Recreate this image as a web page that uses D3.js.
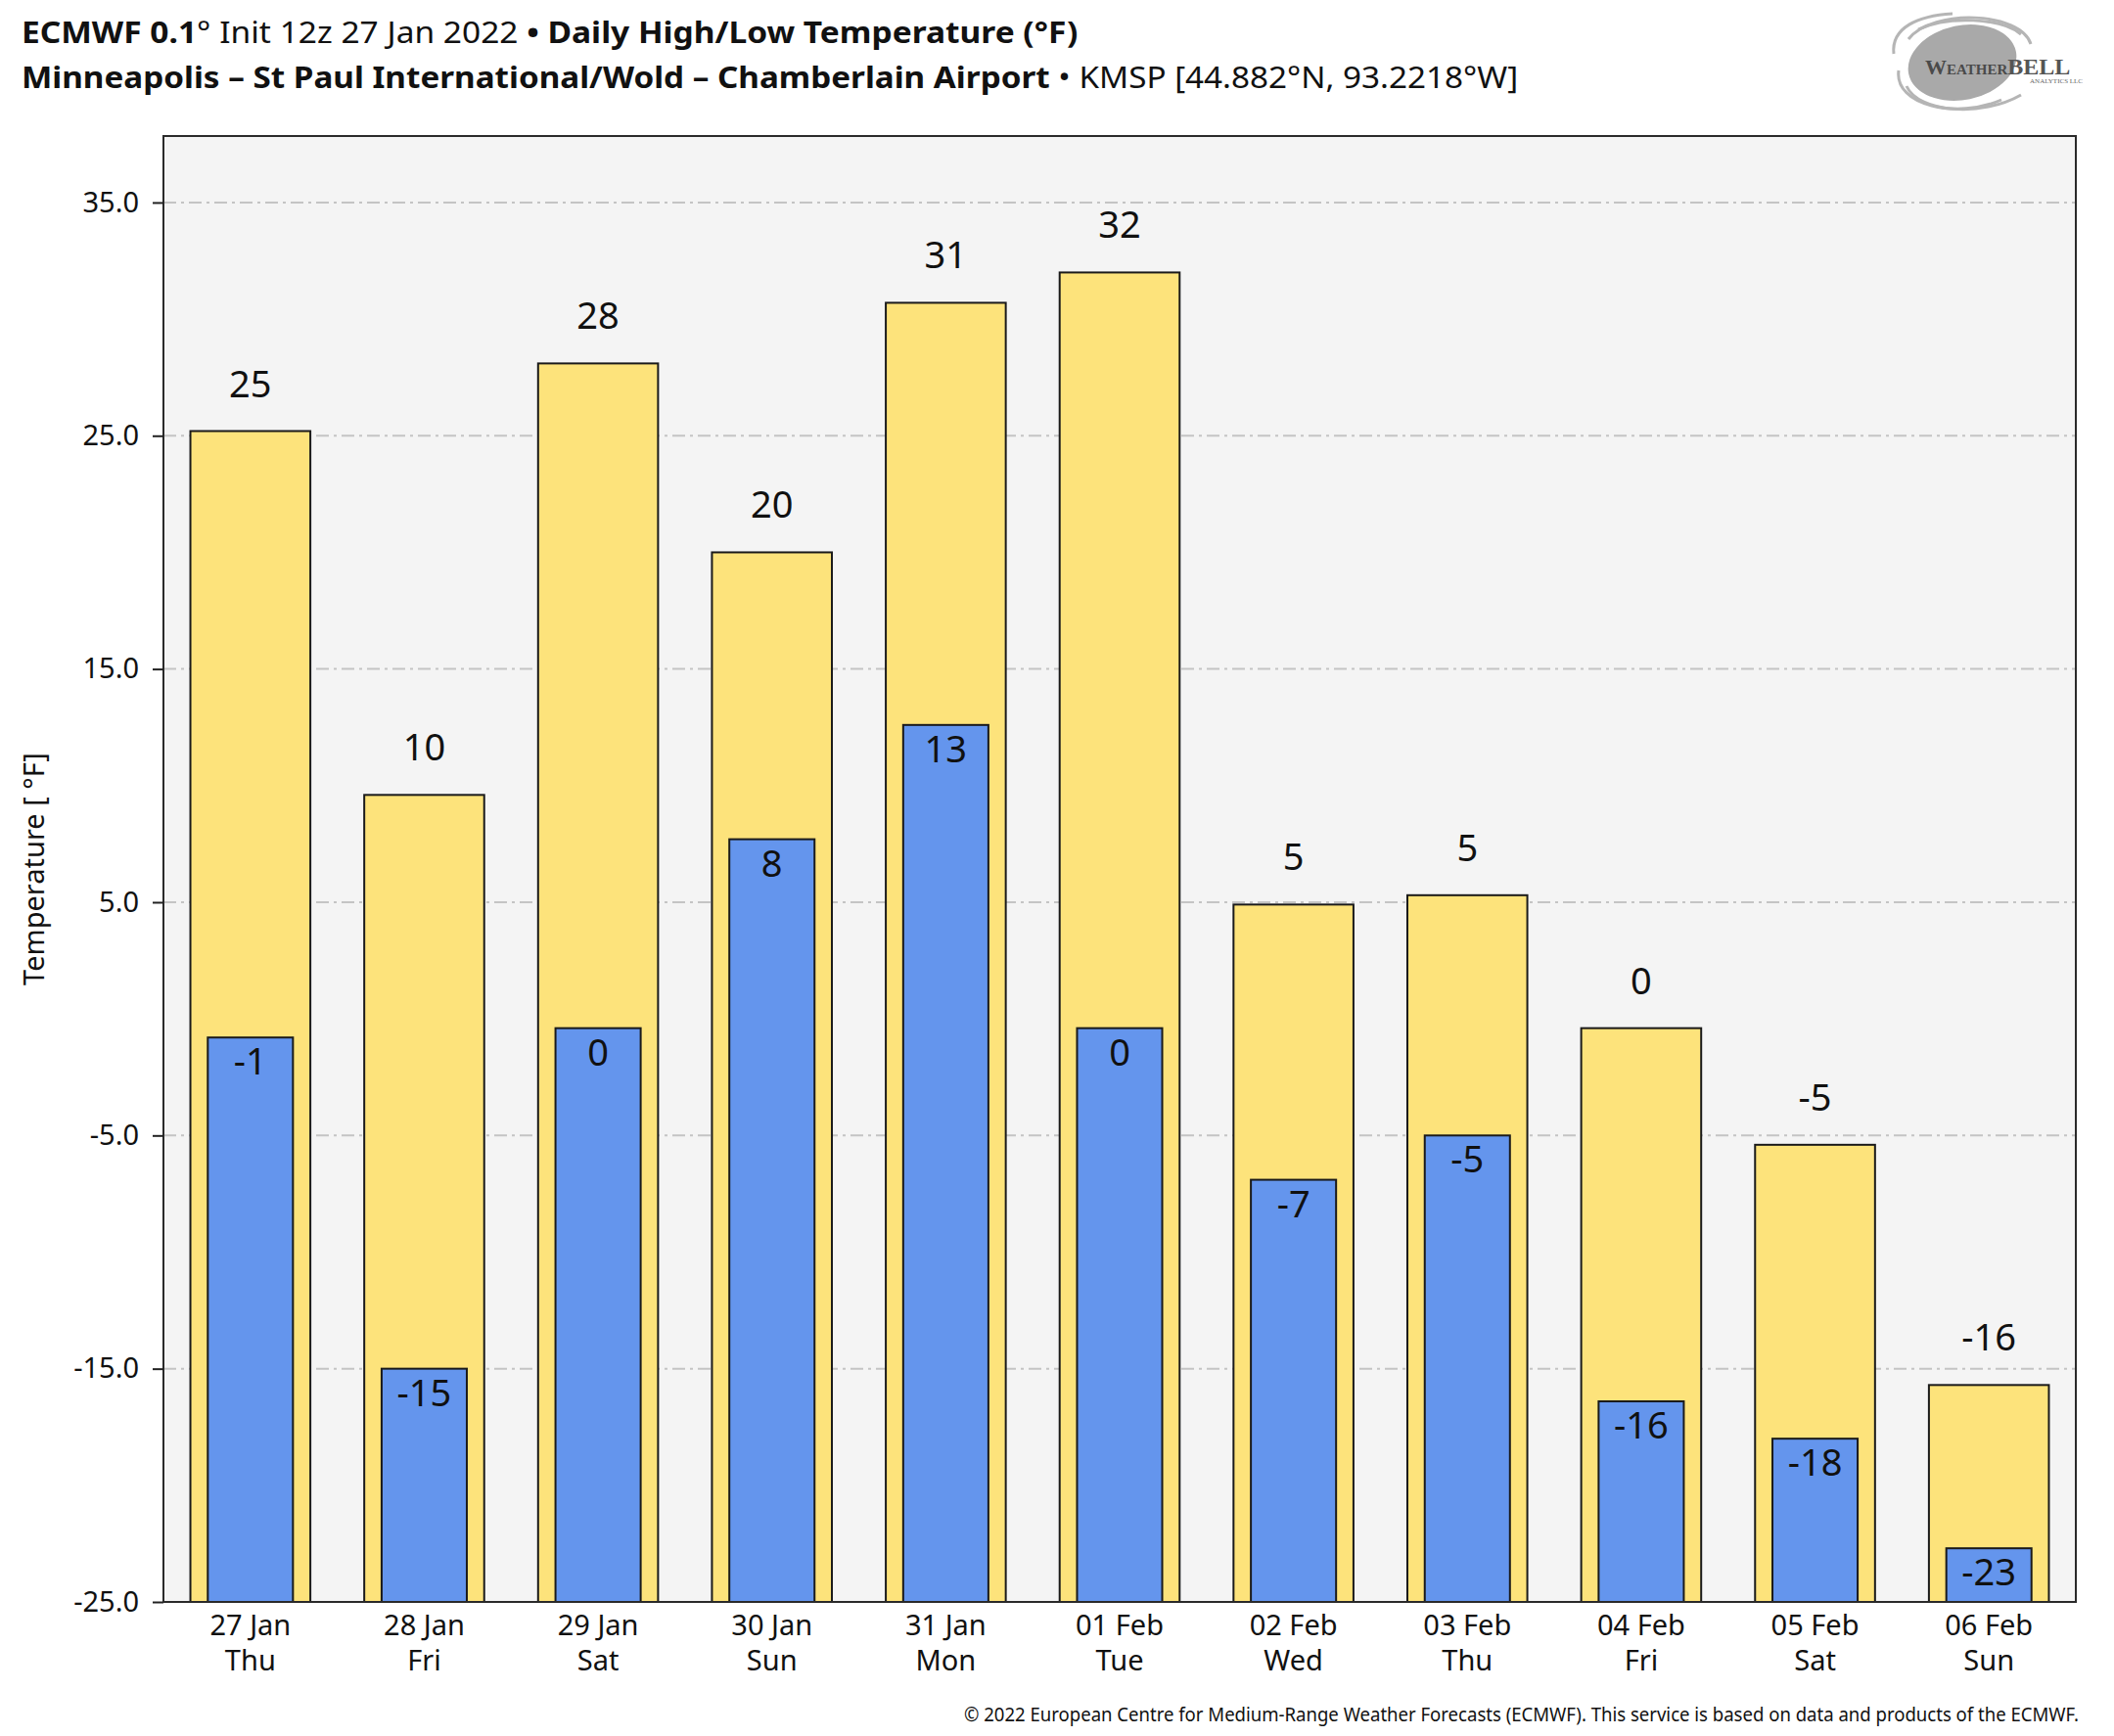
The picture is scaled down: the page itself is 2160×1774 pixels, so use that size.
<!DOCTYPE html>
<html><head><meta charset="utf-8">
<script src="https://cdn.jsdelivr.net/npm/d3@7"></script>
<style>body{margin:0;background:#fff} svg{display:block}</style>
</head><body><svg id="c" width="2160" height="1774"></svg>
<script>
const dates = ["27 Jan","28 Jan","29 Jan","30 Jan","31 Jan","01 Feb","02 Feb","03 Feb","04 Feb","05 Feb","06 Feb"];
const weekdays = ["Thu","Fri","Sat","Sun","Mon","Tue","Wed","Thu","Fri","Sat","Sun"];
const highs = [25.2, 9.6, 28.1, 20.0, 30.7, 32.0, 4.9, 5.3, -0.4, -5.4, -15.7];
const lows = [-0.8, -15.0, -0.4, 7.7, 12.6, -0.4, -6.9, -5.0, -16.4, -18.0, -22.7];
const yTicks = [-25, -15, -5, 5, 15, 25, 35];
const yDomain = [-25, 37.85];

const FONT = "'Noto Sans', 'Open Sans', sans-serif";
const svg = d3.select("#c");
const L = 167, R = 2121, T = 139, B = 1637;

const x = d3.scaleBand().domain(dates).range([L, R]).padding(0);
const y = d3.scaleLinear().domain(yDomain).range([B, T]);

// plot background
svg.append("rect").attr("x", L).attr("y", T).attr("width", R - L).attr("height", B - T).attr("fill", "#f4f4f4");

// gridlines
svg.append("g").selectAll("line").data(yTicks.filter(d => d > yDomain[0])).join("line")
  .attr("x1", L).attr("x2", R).attr("y1", d => y(d)).attr("y2", d => y(d))
  .attr("stroke", "#c4c4c4").attr("stroke-width", 2).attr("stroke-dasharray", "13,5,3,5");

const step = x.bandwidth();
const hw = step * 0.69, lw = step * 0.49;
const cx = d => x(d) + step / 2;

// high bars
svg.append("g").selectAll("rect").data(dates).join("rect")
  .attr("x", (d) => cx(d) - hw / 2).attr("width", hw)
  .attr("y", (d, i) => y(highs[i])).attr("height", (d, i) => y(yDomain[0]) - y(highs[i]))
  .attr("fill", "#fde37b").attr("stroke", "#1a1a1a").attr("stroke-width", 2);
// low bars
svg.append("g").selectAll("rect").data(dates).join("rect")
  .attr("x", (d) => cx(d) - lw / 2).attr("width", lw)
  .attr("y", (d, i) => y(lows[i])).attr("height", (d, i) => y(yDomain[0]) - y(lows[i]))
  .attr("fill", "#6495ed").attr("stroke", "#1a1a1a").attr("stroke-width", 2);

const fmtVal = v => String(Math.round(v) === 0 ? 0 : Math.round(v));
// value labels
svg.append("g").selectAll("text").data(dates).join("text")
  .attr("x", d => cx(d)).attr("y", (d, i) => y(highs[i]) - 35)
  .attr("text-anchor", "middle").attr("font-family", FONT).attr("font-size", 38).attr("fill", "#111")
  .text((d, i) => fmtVal(highs[i]));
svg.append("g").selectAll("text").data(dates).join("text")
  .attr("x", d => cx(d)).attr("y", (d, i) => y(lows[i]) + 38)
  .attr("text-anchor", "middle").attr("font-family", FONT).attr("font-size", 38).attr("fill", "#111")
  .text((d, i) => fmtVal(lows[i]));

// frame
svg.append("rect").attr("x", L).attr("y", T).attr("width", R - L).attr("height", B - T)
  .attr("fill", "none").attr("stroke", "#2a2a2a").attr("stroke-width", 2);

// y axis
const ya = svg.append("g").attr("transform", `translate(${L},0)`)
  .call(d3.axisLeft(y).tickValues(yTicks).tickFormat(d => d.toFixed(1)).tickSize(11).tickPadding(14));
ya.select(".domain").remove();
ya.selectAll(".tick line").attr("stroke", "#222").attr("stroke-width", 2);
ya.selectAll(".tick text").attr("font-family", FONT).attr("font-size", 29).attr("fill", "#111");

// x axis
const xa = svg.append("g").attr("transform", `translate(0,${B})`)
  .call(d3.axisBottom(x).tickSize(0).tickPadding(0));
xa.select(".domain").remove();
xa.selectAll(".tick text").each(function(d, i) {
  const t = d3.select(this).text(null).attr("y", 0).attr("dy", null)
    .attr("font-family", FONT).attr("font-size", 29).attr("fill", "#111");
  t.append("tspan").attr("x", 0).attr("y", 34).text(d);
  t.append("tspan").attr("x", 0).attr("y", 70).text(weekdays[i]);
});

// y label
svg.append("text").attr("transform", `translate(45,${(T + B) / 2}) rotate(-90)`)
  .attr("text-anchor", "middle").attr("font-family", FONT).attr("font-size", 29).attr("fill", "#111")
  .text("Temperature [ °F]");

// titles
function titleLine(parts, yPos, targetW, size) {
  const g = svg.append("text").attr("font-family", FONT).attr("font-size", size).attr("fill", "#111");
  parts.forEach(p => g.append("tspan").attr("font-weight", p[1] ? 700 : 400).text(p[0]));
  const w = g.node().getComputedTextLength();
  g.attr("transform", `translate(22,${yPos}) scale(${targetW / w},1)`);
}
titleLine([["ECMWF 0.1", 1], ["°", 0], [" Init 12z 27 Jan 2022 ", 0], ["•", 1], [" Daily High/Low Temperature (°F)", 1]], 44, 1080, 31);
titleLine([["Minneapolis – St Paul International/Wold – Chamberlain Airport", 1], [" • KMSP [44.882°N, 93.2218°W]", 0]], 90, 1530, 31);

// footer
const ft = svg.append("text").attr("font-family", FONT).attr("font-size", 19).attr("fill", "#111")
  .text("© 2022 European Centre for Medium-Range Weather Forecasts (ECMWF). This service is based on data and products of the ECMWF.");
const fw = ft.node().getComputedTextLength();
ft.attr("transform", `translate(985,1759) scale(${1140 / fw},1)`);

// logo
const lg = svg.append("g");
lg.append("ellipse").attr("cx", 2005).attr("cy", 64).attr("rx", 56).attr("ry", 38)
  .attr("transform", "rotate(-12,2005,64)").attr("fill", "#a9a9a9");
const arcs = [
  "M1950,40 C1975,8 2065,12 2075,45",
  "M1940,72 C1935,108 2000,122 2045,102",
  "M1960,30 C1990,16 2045,18 2065,35",
  "M1948,88 C1960,115 2025,120 2065,97",
  "M1935,55 C1932,28 1960,16 1995,14"
];
lg.selectAll("path").data(arcs).join("path").attr("d", d => d)
  .attr("fill", "none").attr("stroke", "#b5b5b5").attr("stroke-width", 3);
const lt = lg.append("text").attr("x", 1967).attr("y", 76).attr("font-family", "'Liberation Serif', serif").attr("fill", "#4a4a4a").attr("font-weight", 700);
lt.append("tspan").attr("font-size", 22).text("W");
lt.append("tspan").attr("font-size", 15).text("EATHER");
lt.append("tspan").attr("font-size", 24).attr("fill", "#555").text("BELL");
lg.append("text").attr("x", 2128).attr("y", 85).attr("text-anchor", "end").attr("font-family", "'Liberation Serif', serif")
  .attr("font-size", 7).attr("fill", "#666").text("ANALYTICS LLC");
</script>
</body></html>
